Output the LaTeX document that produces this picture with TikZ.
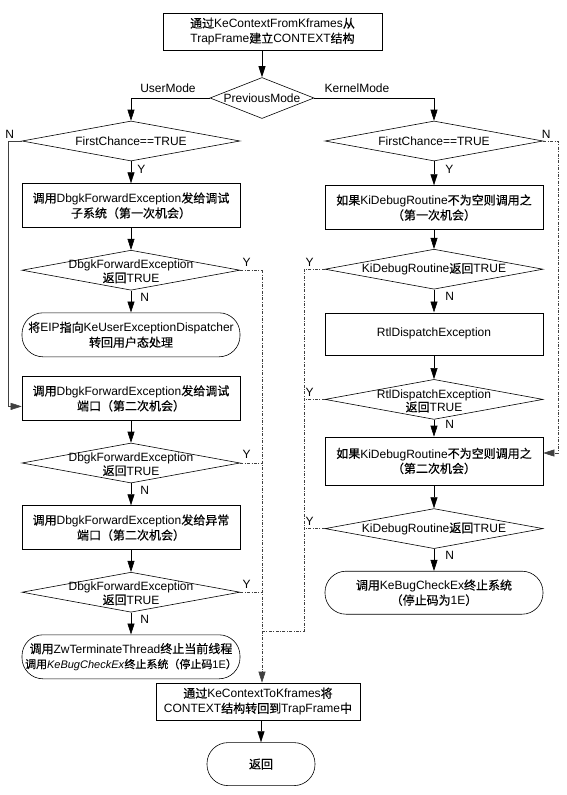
\documentclass[tikz,border=0pt]{standalone}
\usepackage{fontspec}
\setmainfont{Liberation Sans}
\newfontfamily\cjkfont{Noto Sans CJK SC}[FakeBold=0.5]
\newcommand{\zh}[1]{{\cjkfont #1}}
\usetikzlibrary{shapes.geometric, arrows.meta, positioning, calc}

\begin{document}
\begin{tikzpicture}[
    x=1pt, y=1pt,
    node distance=22pt,
    font=\fontsize{12pt}{15pt}\selectfont,
    process/.style={rectangle, draw=black, line width=0.6pt, minimum width=218pt, minimum height=44pt, inner sep=0pt, align=center},
    decision/.style={diamond, draw=black, line width=0.6pt, minimum width=218pt, minimum height=40pt, inner sep=0pt},
    dectext/.style={align=center, inner sep=0pt, font=\fontsize{12pt}{13.5pt}\selectfont},
    terminal/.style={rectangle, rounded corners=21pt, draw=black, line width=0.6pt, minimum width=218pt, minimum height=44pt, inner sep=0pt, align=center},
    arrow/.style={line width=0.6pt, -{Triangle[length=11pt,width=7pt]}},
    bypass/.style={line width=0.5pt, draw=black!75, dash pattern=on 3pt off 1.5pt on 0.8pt off 1.5pt},
    flag/.style={inner sep=1pt}
]
\useasboundingbox[fill=white] (0,0) rectangle (566,-795);

% Entry
\node[process, minimum width=219pt, minimum height=37pt] (entry) at (272.5,-31.5) {\zh{通过}KeContextFromKframes\zh{从}\\TrapFrame\zh{建立}CONTEXT\zh{结构}};
\node[decision, minimum width=104pt, minimum height=41pt] (mode) at (262,-98) {};
\node (modetxt) at (mode) {PreviousMode};
\node (usermode) at (168,-88) {UserMode};
\node (kernelmode) at (357,-88) {KernelMode};

% User mode branch
\node[decision] (ufirst) at (131,-141) {};
\node (ufirsttxt) at (ufirst) {FirstChance==TRUE};
\node[process, below=of ufirst] (udbg1) {\zh{调用}DbgkForwardException\zh{发给调试}\\\zh{子系统（第一次机会）}};
\node[decision, below=of udbg1] (uret1) {};
\node[dectext] (uret1txt) at ([yshift=-1.5pt]uret1.center) {DbgkForwardException\\\zh{返回}TRUE};
\node[terminal, below=of uret1] (uback) {\zh{将}EIP\zh{指向}KeUserExceptionDispatcher\\\zh{转回用户态处理}};
\node[process, below=19pt of uback] (udbg2) {\zh{调用}DbgkForwardException\zh{发给调试}\\\zh{端口（第二次机会）}};
\node[decision, below=of udbg2] (uret2) {};
\node[dectext] (uret2txt) at ([yshift=-1.5pt]uret2.center) {DbgkForwardException\\\zh{返回}TRUE};
\node[process, below=of uret2] (uexc) {\zh{调用}DbgkForwardException\zh{发给异常}\\\zh{端口（第二次机会）}};
\node[decision, below=of uexc] (uret3) {};
\node[dectext] (uret3txt) at ([yshift=-1.5pt]uret3.center) {DbgkForwardException\\\zh{返回}TRUE};
\node[terminal, below=of uret3] (ukill) {\zh{调用}ZwTerminateThread\zh{终止当前线程}\\{\fontsize{11pt}{15pt}\selectfont\zh{调用}\textit{KeBugCheckEx}\zh{终止系统（停止码}1E\zh{）}}};

% Kernel mode branch
\node[decision] (kfirst) at (434,-141) {};
\node (kfirsttxt) at (kfirst) {FirstChance==TRUE};
\node[process, below=24pt of kfirst] (kdbg1) {\zh{如果}KiDebugRoutine\zh{不为空则调用之}\\\zh{（第一次机会）}};
\node[decision, below=19pt of kdbg1] (kret1) {};
\node (kret1txt) at (kret1) {KiDebugRoutine\zh{返回}TRUE};
\node[process, minimum height=42pt, below=23pt of kret1] (rtl) {RtlDispatchException};
\node[decision, below=24pt of rtl] (rtlret) {};
\node[dectext] (rtlrettxt) at ([yshift=-1.5pt]rtlret.center) {RtlDispatchException\\\zh{返回}TRUE};
\node[process, minimum height=48pt, below=17pt of rtlret] (kdbg2) {\zh{如果}KiDebugRoutine\zh{不为空则调用之}\\\zh{（第二次机会）}};
\node[decision, below=23pt of kdbg2] (kret2) {};
\node (kret2txt) at (kret2) {KiDebugRoutine\zh{返回}TRUE};
\node[terminal, minimum height=43pt, below=22pt of kret2] (kbug) {\zh{调用}KeBugCheckEx\zh{终止系统}\\\zh{（停止码为}1E\zh{）}};

% Exit
\node[process, minimum width=204pt, minimum height=37pt] (exit) at (258,-701.5) {\zh{通过}KeContextToKframes\zh{将}\\CONTEXT\zh{结构转回到}TrapFrame\zh{中}};
\node[terminal, minimum width=108pt, minimum height=43pt, below=22pt of exit, xshift=3pt] (ret) {\zh{返回}};

% Bus lines
\coordinate (lskip) at (8,0);
\coordinate (rskip) at (558,0);
\coordinate (lbus) at (262,0);
\coordinate (rbus) at (304,0);
\coordinate (join) at (262,-631);

% Main arrows
\draw[arrow] (mode.north |- entry.south) -- (mode.north);
\draw[arrow] (mode.west) -| (ufirst.north);
\draw[arrow] (mode.east) -| (kfirst.north);

% User mode arrows
\draw[arrow] (ufirst.south) -- node[flag, right, xshift=5pt, pos=0.35] (ufirsty) {Y} (udbg1.north);
\draw[arrow] (udbg1.south) -- (uret1.north);
\draw[arrow] (uret1.south) -- node[flag, right, xshift=8pt, pos=0.3] (uret1n) {N} (uback.north);
\draw[arrow] (udbg2.south) -- (uret2.north);
\draw[arrow] (uret2.south) -- node[flag, right, xshift=8pt, pos=0.3] (uret2n) {N} (uexc.north);
\draw[arrow] (uexc.south) -- (uret3.north);
\draw[arrow] (uret3.south) -- node[flag, right, xshift=8pt, pos=0.3] (uret3n) {N} (ukill.north);
\draw[arrow, draw=black!75, line width=0.5pt] (ufirst.west) -- (ufirst.west -| lskip) |- ([yshift=-8pt]udbg2.west);
\node[flag, anchor=south] (ufirstn) at ([xshift=-12pt,yshift=1pt]ufirst.west) {N};

% Kernel mode arrows
\draw[arrow] (kfirst.south) -- node[flag, right, xshift=10pt, pos=0.35] (kfirsty) {Y} (kdbg1.north);
\draw[arrow] (kdbg1.south) -- (kret1.north);
\draw[arrow] (kret1.south) -- node[flag, right, xshift=10pt, pos=0.3] (kret1n) {N} (rtl.north);
\draw[arrow] (rtl.south) -- (rtlret.north);
\draw[arrow] (rtlret.south) -- node[flag, right, xshift=10pt, pos=0.3] (rtlretn) {N} (kdbg2.north);
\draw[arrow] (kdbg2.south) -- (kret2.north);
\draw[arrow] (kret2.south) -- node[flag, right, xshift=10pt, pos=0.3] (kret2n) {N} (kbug.north);
\draw[bypass, arrow] (kfirst.east) -- (kfirst.east -| rskip) |- ([yshift=8pt]kdbg2.east);
\node[flag, anchor=south] (kfirstn) at ([xshift=3pt,yshift=1pt]kfirst.east) {N};

% Y bypass to exit
\draw[bypass] (uret1.east) -- (uret1.east -| lbus);
\draw[bypass] (uret2.east) -- (uret2.east -| lbus);
\draw[bypass] (uret3.east) -- (uret3.east -| lbus);
\draw[bypass, arrow] (uret1.east -| lbus) -- (exit.north -| lbus);
\draw[bypass] (kret1.west) -- (kret1.west -| rbus) -- (rbus |- join) -- (join);
\draw[bypass] (rtlret.west) -- (rtlret.west -| rbus);
\draw[bypass] (kret2.west) -- (kret2.west -| rbus);
\node[flag, anchor=south west] (uret1y) at ([xshift=1pt,yshift=3pt]uret1.east) {Y};
\node[flag, anchor=south west] (uret2y) at ([xshift=1pt,yshift=3pt]uret2.east) {Y};
\node[flag, anchor=south west] (uret3y) at ([xshift=1pt,yshift=3pt]uret3.east) {Y};
\node[flag, anchor=south east] (kret1y) at ([xshift=-10pt,yshift=2pt]kret1.west) {Y};
\node[flag, anchor=south east] (rtlrety) at ([xshift=-10pt,yshift=2pt]rtlret.west) {Y};
\node[flag, anchor=south east] (kret2y) at ([xshift=-10pt,yshift=2pt]kret2.west) {Y};

% Return
\draw[arrow] (ret.north |- exit.south) -- (ret.north);

\end{tikzpicture}
\end{document}
